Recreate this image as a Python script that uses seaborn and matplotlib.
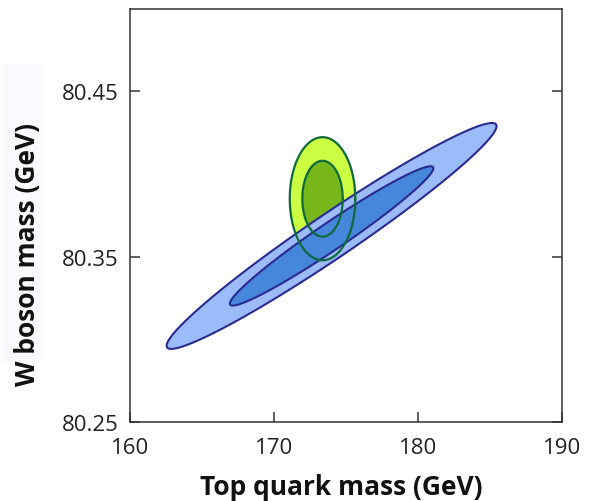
import matplotlib
matplotlib.use("Agg")
import matplotlib.pyplot as plt
import numpy as np
import seaborn as sns
from matplotlib.patches import Rectangle

# contour regions: (top mass, W mass) Gaussian ellipses
blue_center = [174.0, 80.3625]
blue_sigma = [4.68, 0.0279]
blue_rho = 0.972

green_center = [173.37, 80.385]
green_sigma = [0.93, 0.0152]
green_rho = 0.0

levels = [2.4477, 1.5096]  # 95% and 68% CL for two parameters

x_ticks = [160, 170, 180, 190]
y_ticks = [80.25, 80.35, 80.45]


def ellipse(center, sigma, rho, k, n=400):
    cov = np.array([[sigma[0] ** 2, rho * sigma[0] * sigma[1]],
                    [rho * sigma[0] * sigma[1], sigma[1] ** 2]])
    chol = np.linalg.cholesky(cov)
    t = np.linspace(0, 2 * np.pi, n)
    pts = chol @ np.vstack([np.cos(t), np.sin(t)]) * k
    return center[0] + pts[0], center[1] + pts[1]


sns.set_theme(style="white")
plt.rcParams["font.family"] = ["Open Sans", "DejaVu Sans"]

fig = plt.figure(figsize=(5.95, 5.02), dpi=100)
ax = fig.add_axes([0.2185, 0.1574, 0.726, 0.8236])

blue_fill = ["#9bbcf8", "#4687db"]
green_fill = ["#ccff44", "#77b71a"]
navy = "#2a2a90"
dgreen = "#0d6b3c"

# green fills first, blue on top, green outlines last
for k, c in zip(levels, green_fill):
    gx, gy = ellipse(green_center, green_sigma, green_rho, k)
    ax.fill(gx, gy, color=c, lw=0, zorder=1)
for k, c in zip(levels, blue_fill):
    bx, by = ellipse(blue_center, blue_sigma, blue_rho, k)
    ax.fill(bx, by, facecolor=c, edgecolor=navy, lw=1.5, zorder=2)
for k in levels:
    gx, gy = ellipse(green_center, green_sigma, green_rho, k)
    sns.lineplot(x=gx, y=gy, sort=False, estimator=None, color=dgreen, lw=1.6,
                 ax=ax, zorder=3)

ax.set_xlim(160, 190)
ax.set_ylim(80.25, 80.50)
ax.set_xticks(x_ticks)
ax.set_yticks(y_ticks)
ax.set_xticklabels([str(v) for v in x_ticks])
ax.set_yticklabels([f"{v:.2f}" for v in y_ticks])
ax.tick_params(axis="both", direction="in", length=7, width=1.1, color="#333333",
               labelsize=16, labelcolor="#222222")
ax.tick_params(axis="y", right=True, left=True, pad=8)
ax.tick_params(axis="x", bottom=True, top=False, pad=11)
for s in ax.spines.values():
    s.set_color("#333333")
    s.set_linewidth(1.1)
    s.set_visible(True)

fig.add_artist(Rectangle((3 / 595, 1 - 363 / 502), 40 / 595, 298 / 502,
                         transform=fig.transFigure, facecolor="#f9fafd",
                         edgecolor="none", zorder=0))
fig.text(341 / 595, 1 - 495 / 502, "Top quark mass (GeV)", ha="center", va="baseline",
         fontsize=19, fontweight="bold", color="#111111")
fig.text(28 / 595, 1 - 254 / 502, "W boson mass (GeV)", ha="center", va="center",
         rotation=90, fontsize=19, fontweight="bold", color="#111111")

fig.savefig("out.png", dpi=100, facecolor="white")
